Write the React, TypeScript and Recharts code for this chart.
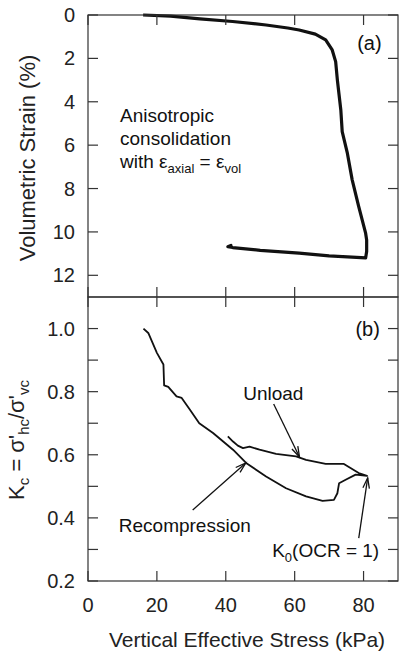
import React from "react";
import {
  LineChart, Line, XAxis, YAxis, ReferenceDot, ReferenceLine,
} from "recharts";

// panel (a): vertical effective stress (kPa) vs volumetric strain (%)
const strainStress = [16, 24, 32.5, 42, 51.7, 58, 61.3, 66, 69, 70.9, 71.9, 72.4, 73.4, 73.8, 75.3, 76.7, 78.6, 80.6, 80.9, 80.9, 80.6, 70, 61.3, 50, 42, 40.6, 41.5, 40.6];
const strainValues = [0, 0.05, 0.18, 0.3, 0.46, 0.6, 0.69, 0.88, 1.15, 1.61, 2.15, 3.0, 4.38, 5.38, 6.37, 7.6, 8.83, 10.06, 10.37, 10.9, 11.2, 11.1, 10.98, 10.85, 10.72, 10.68, 10.62, 10.68];

// panel (b): vertical effective stress (kPa) vs Kc
const kStress = [16.1, 17.5, 20, 21.9, 22.1, 23.3, 25.7, 27.2, 29.6, 32.3, 36.3, 42.1, 45.9, 51.7, 57.5, 63.3, 68.1, 71.4, 72.4, 72.9, 74.8, 77.7, 81, 78.6, 74.3, 69, 63.3, 60.4, 54.6, 49.8, 46.9, 45, 43.5, 42.1, 40.6];
const kValues = [1.0, 0.986, 0.923, 0.886, 0.82, 0.815, 0.785, 0.78, 0.743, 0.7, 0.669, 0.616, 0.574, 0.531, 0.494, 0.468, 0.454, 0.457, 0.478, 0.51, 0.521, 0.537, 0.533, 0.542, 0.571, 0.571, 0.584, 0.595, 0.603, 0.616, 0.626, 0.621, 0.629, 0.642, 0.658];

const xDomain = [0, 90];
const xTicks = [0, 20, 40, 60, 80];
const strainDomain = [0, 13];
const strainTicks = [0, 2, 4, 6, 8, 10, 12];
const kDomain = [0.2, 1.1];
const kTicks = [0.2, 0.3, 0.4, 0.5, 0.6, 0.7, 0.8, 0.9, 1.0];

const topData = strainStress.map((s, i) => ({ s, v: strainValues[i] }));
const botData = kStress.map((s, i) => ({ s, v: kValues[i] }));

const FONT = '"Liberation Sans", Arial, Helvetica, sans-serif';
const INK = "#111";
const AXIS = "#333";
const TICK = 10;

// layout shared by both charts and the frame overlay
const W = 399;
const AXIS_W = 88;
const RIGHT_M = 1;
const TOP_H = 299;
const TOP_M = 15;
const TOP_BM = 2;
const BOT_Y = 295;
const BOT_H = 359;
const BOT_M = 2;
const X_AXIS_H = 73;

const Arrow = (p: any) => {
  const { x1, y1, x2, y2 } = p;
  const a = Math.atan2(y2 - y1, x2 - x1);
  const L = 11;
  const w = 0.3;
  const h1 = `${x2 - L * Math.cos(a - w)},${y2 - L * Math.sin(a - w)}`;
  const h2 = `${x2 - L * Math.cos(a + w)},${y2 - L * Math.sin(a + w)}`;
  return (
    <g stroke={INK} strokeWidth={1.3} fill="none">
      <line x1={x1} y1={y1} x2={x2} y2={y2} />
      <polyline points={`${h1} ${x2},${y2} ${h2}`} />
    </g>
  );
};

// plot box with inward ticks on all four sides
const Box = ({ top, bottom, yd, yt, reversed }: any) => {
  const left = AXIS_W;
  const right = W - RIGHT_M;
  const px = (v: number) => left + ((v - xDomain[0]) / (xDomain[1] - xDomain[0])) * (right - left);
  const py = (v: number) => {
    const f = (v - yd[0]) / (yd[1] - yd[0]);
    return reversed ? top + f * (bottom - top) : bottom - f * (bottom - top);
  };
  return (
    <g stroke={AXIS} strokeWidth={1.2} fill="none">
      <rect x={left} y={top} width={right - left} height={bottom - top} />
      {xTicks.map((v) => (
        <g key={`x${v}`}>
          <line x1={px(v)} y1={top} x2={px(v)} y2={top + TICK} />
          <line x1={px(v)} y1={bottom} x2={px(v)} y2={bottom - TICK} />
        </g>
      ))}
      {yt.map((v: number) => (
        <g key={`y${v}`}>
          <line x1={left} y1={py(v)} x2={left + TICK} y2={py(v)} />
          <line x1={right} y1={py(v)} x2={right - TICK} y2={py(v)} />
        </g>
      ))}
    </g>
  );
};

const txt = (content: React.ReactNode, anchor = "middle", size = 19) => (p: any) => (
  <text x={p.cx} y={p.cy} textAnchor={anchor} fontSize={size} fill={INK} fontFamily={FONT}>
    {content}
  </text>
);

const tickStyle = { fontSize: 20, fill: "#222", fontFamily: FONT };

export default function App() {
  const topPlotBottom = TOP_H - TOP_BM;
  const botPlotTop = BOT_Y + BOT_M;
  const botPlotBottom = BOT_Y + BOT_H - X_AXIS_H;
  return (
    <div style={{ position: "absolute", left: 0, top: 0, width: W, height: 654, background: "#fff", fontFamily: FONT }}>
      <div style={{ position: "absolute", left: 0, top: 0 }}>
        <LineChart width={W} height={TOP_H} data={topData} margin={{ top: TOP_M, right: RIGHT_M, bottom: TOP_BM, left: 0 }}>
          <XAxis hide dataKey="s" type="number" domain={xDomain} />
          <YAxis type="number" domain={strainDomain} reversed ticks={strainTicks} width={AXIS_W}
            tickSize={-10} tickMargin={23} tick={tickStyle} axisLine={false} tickLine={false}
            label={() => (
              <text x={35} y={158} transform="rotate(-90 35 158)" textAnchor="middle"
                fontSize={22} fill="#222" fontFamily={FONT}>Volumetric Strain (%)</text>
            )} />
          <Line dataKey="v" stroke={INK} strokeWidth={3.2} dot={false} isAnimationActive={false} strokeLinejoin="round" />
          <ReferenceDot x={81.7} y={1.61} r={0} shape={txt("(a)", "middle", 20)} />
          <ReferenceDot x={9.3} y={4.92} r={0} shape={(p: any) => (
            <text x={p.cx} y={p.cy} fontSize={19} fill={INK} fontFamily={FONT}>
              <tspan x={p.cx}>Anisotropic</tspan>
              <tspan x={p.cx} dy={23.3}>consolidation</tspan>
              <tspan x={p.cx} dy={23.3}>with ε</tspan>
              <tspan dy={5} fontSize={13}>axial</tspan>
              <tspan dy={-5}> = ε</tspan>
              <tspan dy={5} fontSize={13}>vol</tspan>
            </text>
          )} />
        </LineChart>
      </div>
      <div style={{ position: "absolute", left: 0, top: BOT_Y }}>
        <LineChart width={W} height={BOT_H} data={botData} margin={{ top: BOT_M, right: RIGHT_M, bottom: 0, left: 0 }}>
          <XAxis dataKey="s" type="number" domain={xDomain} ticks={xTicks} height={X_AXIS_H}
            tickSize={-9} tickMargin={26} tick={tickStyle} axisLine={false} tickLine={false}
            label={() => (
              <text x={247} y={352} textAnchor="middle" fontSize={21} fill="#222" fontFamily={FONT}>
                Vertical Effective Stress (kPa)
              </text>
            )} />
          <YAxis type="number" domain={kDomain} ticks={kTicks} width={AXIS_W}
            tickSize={-10} tickMargin={23} tick={tickStyle} axisLine={false} tickLine={false}
            tickFormatter={(v: number) => (Math.round(v * 10) % 2 === 0 ? v.toFixed(1) : "")}
            label={() => (
              <text x={24} y={145} transform="rotate(-90 24 145)" textAnchor="middle"
                fontSize={22} fill="#222" fontFamily={FONT}>
                K<tspan dy={5} fontSize={15}>c</tspan>
                <tspan dy={-5}> = σ'</tspan>
                <tspan dy={5} fontSize={15}>hc</tspan>
                <tspan dy={-5}>/σ'</tspan>
                <tspan dy={5} fontSize={15}>vc</tspan>
              </text>
            )} />
          <Line dataKey="v" stroke={INK} strokeWidth={1.8} dot={false} isAnimationActive={false} strokeLinejoin="round" />
          <ReferenceDot x={81.2} y={0.976} r={0} shape={txt("(b)", "middle", 20)} />
          <ReferenceDot x={53.8} y={0.774} r={0} shape={txt("Unload")} />
          <ReferenceDot x={28.1} y={0.355} r={0} shape={txt("Recompression")} />
          <ReferenceDot x={69} y={0.276} r={0} shape={txt(
            <>K<tspan dy={5} fontSize={13}>0</tspan><tspan dy={-5}>(OCR = 1)</tspan></>
          )} />
          <ReferenceLine segment={[{ x: 53.9, y: 0.761 }, { x: 61.4, y: 0.593 }]} shape={Arrow} />
          <ReferenceLine segment={[{ x: 30.4, y: 0.425 }, { x: 45.8, y: 0.574 }]} shape={Arrow} />
          <ReferenceLine segment={[{ x: 78.6, y: 0.336 }, { x: 81.2, y: 0.527 }]} shape={Arrow} />
        </LineChart>
      </div>
      <svg width={W} height={654} style={{ position: "absolute", left: 0, top: 0, pointerEvents: "none" }}>
        <Box top={TOP_M} bottom={topPlotBottom} yd={strainDomain} yt={strainTicks} reversed />
        <Box top={botPlotTop} bottom={botPlotBottom} yd={kDomain} yt={kTicks} />
      </svg>
    </div>
  );
}
